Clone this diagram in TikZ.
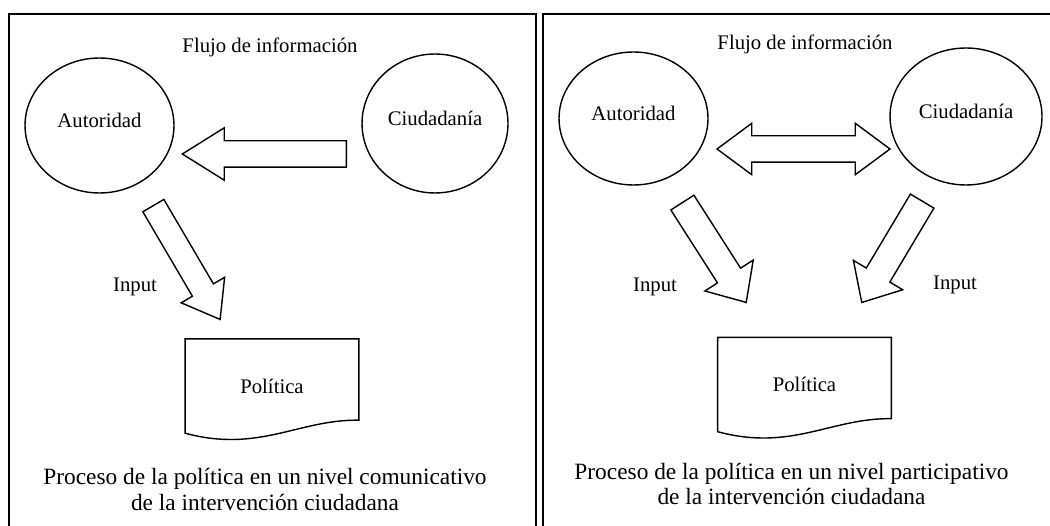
\documentclass[tikz,border=0pt]{standalone}
\usepackage{fontspec}
\setmainfont{Liberation Serif}
\usepackage{tikz}
\usetikzlibrary{shapes.geometric,shapes.arrows,calc}

% hoja con borde ondulado abajo
\newcommand{\hoja}[1]{%
  \draw (#1.north west) -- (#1.north east) -- ([yshift=0.26cm]#1.south east)
    .. controls ($(#1.south west)+(114,-14)$) and ($(#1.south west)+(74,20)$) .. (#1.south west)
    -- cycle;}

\begin{document}
\begin{tikzpicture}[x=0.02cm,y=-0.02cm,line width=0.8pt,
    ente/.style={ellipse,draw,inner sep=0pt,text depth=0.2cm,font=\fontsize{11.8}{14}\selectfont},
    texto/.style={inner sep=0pt,font=\fontsize{11.8}{14}\selectfont},
    titulo/.style={inner sep=0pt,align=center,font=\fontsize{13.3}{14.7}\selectfont},
    hojanodo/.style={rectangle,minimum width=3.45cm,minimum height=1.86cm,inner sep=0pt,font=\fontsize{11.8}{14}\selectfont},
    flecha/.style={single arrow,draw,anchor=tail,inner xsep=0pt}]

  \useasboundingbox (0,0) rectangle (1050,526);
  \clip (0,0) rectangle (1050,526);

  % marcos
  \draw[line width=1.2pt] (9,540) -- (9,14) -- (536,14) -- (536,540);
  \draw[line width=1.2pt] (543,540) -- (543,14) -- (1060,14);

  % nivel comunicativo
  \node[texto]  (flujo1) at (270,47)    {Flujo de informaci\'on};
  \node[ente, minimum width=2.98cm, minimum height=2.70cm] (aut1) at (99.5,125.5) {Autoridad};
  \node[ente, minimum width=2.92cm, minimum height=2.78cm] (ciu1) at (435,123.5) {Ciudadan\'ia};
  \node[hojanodo] (pol1) at (272,386)   {Pol\'itica};
  \hoja{pol1}

  \node[flecha, rotate=180, minimum height=3.28cm, inner ysep=0.25cm,
        single arrow head extend=0.26cm, single arrow tip angle=64] (f1) at (347,154) {};
  \node[flecha, rotate=-59.6, minimum height=2.64cm, inner ysep=0.23cm,
        single arrow head extend=0.26cm, single arrow tip angle=73] (f2) at (153,205) {};
  \node[texto] (in1) at (135,287) {Input};

  \node[titulo] (tit1) at (265,489.5) {Proceso de la pol\'itica en un nivel comunicativo\\de la intervenci\'on ciudadana};

  % nivel participativo
  \node[texto]  (flujo2) at (805,44)    {Flujo de informaci\'on};
  \node[ente, minimum width=2.98cm, minimum height=2.66cm] (aut2) at (633.5,118.5) {Autoridad};
  \node[ente, minimum width=3.04cm, minimum height=2.74cm] (ciu2) at (966,116.5) {Ciudadan\'ia};
  \node[hojanodo] (pol2) at (804.5,384.5) {Pol\'itica};
  \hoja{pol2}

  \node[double arrow, draw, inner xsep=0pt, inner ysep=0.25cm, minimum height=3.46cm,
        double arrow head extend=0.25cm, double arrow tip angle=73] (f3) at (803.5,149) {};
  \node[flecha, rotate=-57.4, minimum height=2.37cm, inner ysep=0.26cm,
        single arrow head extend=0.30cm, single arrow tip angle=84] (f4) at (682,202) {};
  \node[flecha, rotate=-120.8, minimum height=2.36cm, inner ysep=0.26cm,
        single arrow head extend=0.30cm, single arrow tip angle=84] (f5) at (922.5,200.5) {};
  \node[texto] (in2) at (655,287) {Input};
  \node[texto] (in3) at (955,285) {Input};

  \node[titulo] (tit2) at (791.5,484) {Proceso de la pol\'itica en un nivel participativo\\de la intervenci\'on ciudadana};

\end{tikzpicture}
\end{document}
